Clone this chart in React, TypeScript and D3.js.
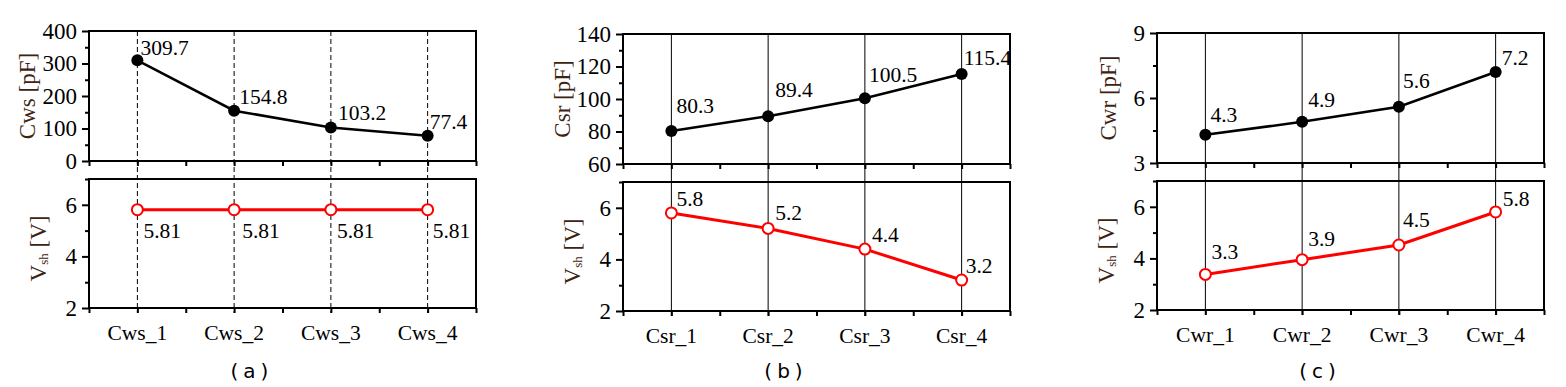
import { useEffect, useRef } from "react";
import * as d3 from "d3";

// panel (a)
const catsA = ["Cws_1", "Cws_2", "Cws_3", "Cws_4"];
const cwsPF = [309.7, 154.8, 103.2, 77.4];
const vshA = [5.81, 5.81, 5.81, 5.81];
const vshALabels = ["5.81", "5.81", "5.81", "5.81"];

// panel (b)
const catsB = ["Csr_1", "Csr_2", "Csr_3", "Csr_4"];
const csrPF = [80.3, 89.4, 100.5, 115.4];
const vshB = [5.8, 5.2, 4.4, 3.2];
const vshBLabels = ["5.8", "5.2", "4.4", "3.2"];

// panel (c)
const catsC = ["Cwr_1", "Cwr_2", "Cwr_3", "Cwr_4"];
const cwrPF = [4.3, 4.9, 5.6, 7.2];
const vshC = [3.38, 3.95, 4.52, 5.8];
const vshCLabels = ["3.3", "3.9", "4.5", "5.8"];

const ticksA = [0, 100, 200, 300, 400];
const ticksB = [60, 80, 100, 120, 140];
const ticksC = [3, 6, 9];
const vshTicks = [2, 4, 6];
const vshMinor = [3, 5, 7];

const W = 387;
const H = 130;
const GAP = 18;
const FONT = "'Liberation Serif', 'Times New Roman', serif";

const panels = [
  {
    left: 89, top: 31, cats: catsA, cap: cwsPF, capText: cwsPF.map(String), capTitle: "Cws [pF]",
    capDomain: [0, 400], capTicks: ticksA, capMinor: d3.range(50, 400, 100),
    vsh: vshA, vshText: vshALabels, dashed: true, tag: "(a)",
    capShift: [[3, -5], [5, -7], [7, -7], [2, -7]],
    vshShift: [[6, 28], [8, 28], [6, 28], [5, 28]],
    titleOff: 62,
  },
  {
    left: 623, top: 34, cats: catsB, cap: csrPF, capText: csrPF.map(String), capTitle: "Csr [pF]",
    capDomain: [60, 140], capTicks: ticksB, capMinor: d3.range(70, 140, 20),
    vsh: vshB, vshText: vshBLabels, dashed: false, tag: "(b)",
    capShift: [[5, -18], [7, -19], [4, -16], [2, -9]],
    vshShift: [[5, -7], [7, -8], [7, -7], [4, -7]],
    titleOff: 61,
  },
  {
    left: 1157, top: 33, cats: catsC, cap: cwrPF, capText: cwrPF.map(String), capTitle: "Cwr [pF]",
    capDomain: [3, 9], capTicks: ticksC, capMinor: [4.5, 7.5],
    vsh: vshC, vshText: vshCLabels, dashed: false, tag: "(c)",
    capShift: [[5, -13], [6, -15], [4, -19], [6, -7]],
    vshShift: [[6, -15], [6, -14], [4, -18], [7, -6]],
    titleOff: 49,
  },
];

const App = () => {
  const ref = useRef(null);

  useEffect(() => {
    if (!ref.current) return;
    const svg = d3.select(ref.current);
    svg.selectAll("*").remove();

    panels.forEach((p) => {
      const g = svg.append("g").attr("font-family", FONT);
      const x = d3.scaleLinear().domain([0.5, 4.5]).range([p.left, p.left + W]);
      const idx = d3.range(p.cats.length);
      const topY = d3.scaleLinear().domain(p.capDomain).range([p.top + H, p.top]);
      const bTop = p.top + H + GAP;
      const botY = d3.scaleLinear().domain([2, 7]).range([bTop + 129, bTop]);

      // vertical guide lines through both plots
      g.selectAll(".guide")
        .data(idx)
        .join("line")
        .attr("x1", (i) => x(i + 1))
        .attr("x2", (i) => x(i + 1))
        .attr("y1", p.top)
        .attr("y2", bTop + 129 + 5)
        .attr("stroke", "#000")
        .attr("stroke-width", 1)
        .attr("stroke-dasharray", p.dashed ? "5,3" : null);

      const drawAxes = (y: any, major: number[], minor: number[], y0: number, y1: number) => {
        const ax = g.append("g").attr("transform", `translate(${p.left},0)`);
        ax.call(d3.axisLeft(y).tickValues(major).tickSize(7).tickPadding(5).tickFormat((d: any) => String(d)) as any);
        ax.select(".domain").remove();
        ax.selectAll(".tick line").attr("stroke-width", 2);
        ax.selectAll(".tick text").attr("font-size", 23).attr("font-family", FONT).attr("fill", "#000");
        ax.attr("font-family", FONT);
        const mn = g.append("g").attr("transform", `translate(${p.left},0)`);
        mn.call(d3.axisLeft(y).tickValues(minor).tickSize(4).tickFormat(() => "") as any);
        mn.select(".domain").remove();
        mn.selectAll(".tick line").attr("stroke-width", 2);

        const bx = g.append("g").attr("transform", `translate(0,${y1})`);
        bx.call(d3.axisBottom(x).tickValues(d3.range(0.5, 4.6, 0.5)).tickSize(5).tickFormat(() => "") as any);
        bx.select(".domain").remove();
        bx.selectAll(".tick line").attr("stroke-width", 2);

        g.append("rect")
          .attr("x", p.left)
          .attr("y", y0)
          .attr("width", W)
          .attr("height", y1 - y0)
          .attr("fill", "none")
          .attr("stroke", "#000")
          .attr("stroke-width", 2);
      };

      drawAxes(topY, p.capTicks, p.capMinor, p.top, p.top + H);
      drawAxes(botY, vshTicks, vshMinor, bTop, bTop + 129);

      // capacitance series
      const lineTop = d3.line<number>().x((i) => x(i + 1)).y((i) => topY(p.cap[i]));
      g.append("path").attr("d", lineTop(idx)).attr("fill", "none").attr("stroke", "#000").attr("stroke-width", 2.5);
      g.selectAll(".dotTop")
        .data(idx)
        .join("circle")
        .attr("cx", (i) => x(i + 1))
        .attr("cy", (i) => topY(p.cap[i]))
        .attr("r", 6)
        .attr("fill", "#000");
      g.selectAll(".lblTop")
        .data(idx)
        .join("text")
        .attr("x", (i) => x(i + 1) + p.capShift[i][0])
        .attr("y", (i) => topY(p.cap[i]) + p.capShift[i][1])
        .attr("font-size", 21.5)
        .attr("fill", "#000")
        .text((i) => p.capText[i]);

      // Vsh series
      const lineBot = d3.line<number>().x((i) => x(i + 1)).y((i) => botY(p.vsh[i]));
      g.append("path").attr("d", lineBot(idx)).attr("fill", "none").attr("stroke", "#ff0000").attr("stroke-width", 3);
      g.selectAll(".dotBot")
        .data(idx)
        .join("circle")
        .attr("cx", (i) => x(i + 1))
        .attr("cy", (i) => botY(p.vsh[i]))
        .attr("r", 5.5)
        .attr("fill", "#fff")
        .attr("stroke", "#ff0000")
        .attr("stroke-width", 2);
      g.selectAll(".lblBot")
        .data(idx)
        .join("text")
        .attr("x", (i) => x(i + 1) + p.vshShift[i][0])
        .attr("y", (i) => botY(p.vsh[i]) + p.vshShift[i][1])
        .attr("font-size", 21.5)
        .attr("fill", "#000")
        .text((i) => p.vshText[i]);

      // category labels
      g.selectAll(".cat")
        .data(idx)
        .join("text")
        .attr("x", (i) => x(i + 1))
        .attr("y", bTop + 129 + 32)
        .attr("text-anchor", "middle")
        .attr("font-size", 21.5)
        .attr("fill", "#000")
        .text((i) => p.cats[i]);

      // axis titles
      const cyTop = p.top + H / 2;
      g.append("text")
        .attr("transform", `translate(${p.left - p.titleOff},${cyTop}) rotate(-90)`)
        .attr("text-anchor", "middle")
        .attr("dominant-baseline", "central")
        .attr("font-size", 23)
        .attr("fill", "#3d2412")
        .text(p.capTitle);

      const cyBot = bTop + 129 / 2 + 5;
      const vt = g.append("text")
        .attr("transform", `translate(${p.left - 51},${cyBot}) rotate(-90)`)
        .attr("text-anchor", "middle")
        .attr("dominant-baseline", "central")
        .attr("font-size", 23)
        .attr("fill", "#3d2412");
      vt.append("tspan").text("V");
      vt.append("tspan").attr("font-size", 13).attr("dy", 5).text("sh");
      vt.append("tspan").attr("dy", -5).text(" [V]");

      // panel tag
      g.append("text")
        .attr("x", p.left + 163)
        .attr("y", 378)
        .attr("text-anchor", "middle")
        .attr("font-family", "'DejaVu Sans', sans-serif")
        .attr("font-size", 20)
        .attr("letter-spacing", 5)
        .attr("fill", "#000")
        .text(p.tag);
    });
  }, []);

  return (
    <svg
      ref={ref}
      width={1566}
      height={387}
      style={{ position: "absolute", left: 0, top: 0, background: "#fff" }}
    ></svg>
  );
};

export default App;
